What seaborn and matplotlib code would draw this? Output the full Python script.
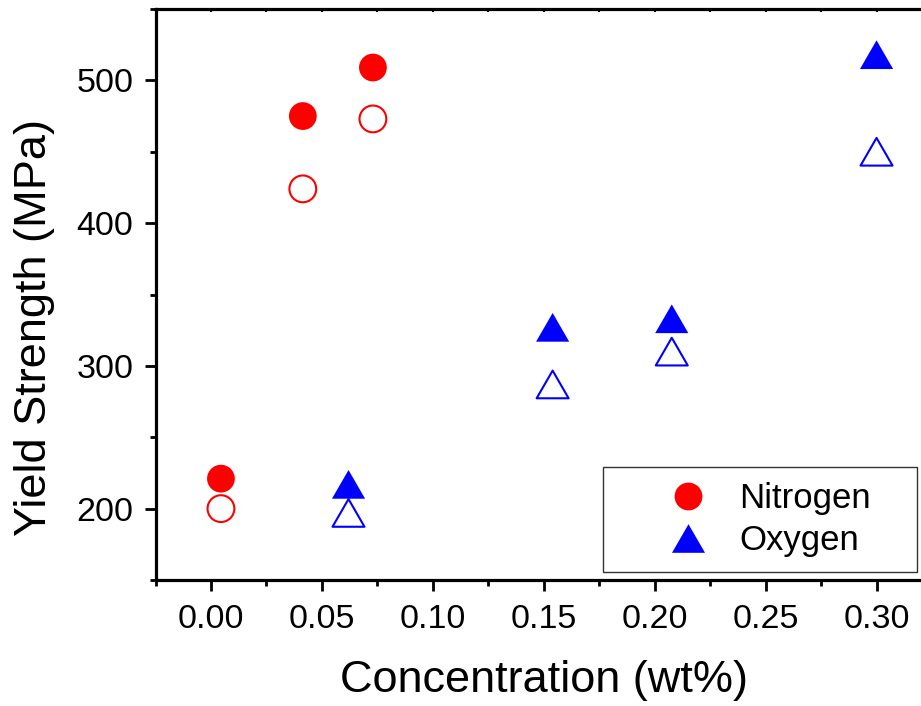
import numpy as np
import pandas as pd
import matplotlib
matplotlib.use("Agg")
import matplotlib.pyplot as plt
from matplotlib.lines import Line2D
from matplotlib.path import Path
from matplotlib.ticker import MultipleLocator
import seaborn as sns

# Yield strength vs. interstitial concentration
nitrogen_conc = [0.0045, 0.0414, 0.0730]
nitrogen_filled = [221, 475, 509]
nitrogen_open = [200, 424, 473]

oxygen_conc = [0.0620, 0.1540, 0.2077, 0.3000]
oxygen_filled = [217, 327, 333, 518]
oxygen_open = [197, 287, 310, 450]

RED = "#FF0000"
BLUE = "#0000FF"

sns.set_theme(style="white")
plt.rcParams["font.family"] = ["Liberation Sans", "DejaVu Sans"]
plt.rcParams["text.color"] = "black"
plt.rcParams["axes.labelcolor"] = "black"
plt.rcParams["xtick.color"] = "black"
plt.rcParams["ytick.color"] = "black"

# equilateral triangle, centred on its bounding box
tri = Path([(0, 0.433), (-0.5, -0.433), (0.5, -0.433), (0, 0.433)],
           [Path.MOVETO, Path.LINETO, Path.LINETO, Path.CLOSEPOLY])

fig = plt.figure(figsize=(9.21, 7.06), dpi=100)
ax = fig.add_axes([155.5 / 921, (706 - 580) / 706, (932 - 155.5) / 921, 571 / 706])

filled = pd.DataFrame({
    "conc": nitrogen_conc + oxygen_conc,
    "ys": nitrogen_filled + oxygen_filled,
    "element": ["Nitrogen"] * len(nitrogen_conc) + ["Oxygen"] * len(oxygen_conc),
})

S_CIRC = 400
S_TRI = 570

sns.scatterplot(data=filled[filled.element == "Nitrogen"], x="conc", y="ys",
                marker="o", s=S_CIRC, color=RED, edgecolor="none",
                legend=False, ax=ax, zorder=3)
sns.scatterplot(data=filled[filled.element == "Oxygen"], x="conc", y="ys",
                marker=tri, s=S_TRI, color=BLUE, edgecolor="none",
                legend=False, ax=ax, zorder=3)
sns.scatterplot(x=nitrogen_conc, y=nitrogen_open, marker="o", s=S_CIRC * 0.93,
                facecolor="none", edgecolor=RED, linewidth=1.5,
                legend=False, ax=ax, zorder=3)
sns.scatterplot(x=oxygen_conc, y=oxygen_open, marker=tri, s=S_TRI * 0.93,
                facecolor="none", edgecolor=BLUE, linewidth=1.5,
                legend=False, ax=ax, zorder=3)

ax.set_xlim(-0.025, 0.325)
ax.set_ylim(150, 550)
ax.xaxis.set_major_locator(MultipleLocator(0.05))
ax.xaxis.set_minor_locator(MultipleLocator(0.025))
ax.yaxis.set_major_locator(MultipleLocator(100))
ax.yaxis.set_minor_locator(MultipleLocator(50))
ax.set_xticks(np.arange(0, 0.301, 0.05))
ax.set_xticklabels([f"{v:.2f}" for v in np.arange(0, 0.301, 0.05)])
ax.set_yticks([200, 300, 400, 500])

for side in ["left", "bottom", "top"]:
    ax.spines[side].set_visible(True)
    ax.spines[side].set_color("black")
    ax.spines[side].set_linewidth(2.3)
ax.spines["right"].set_visible(False)

ax.tick_params(axis="both", which="major", direction="out", length=8, width=2.0,
               labelsize=24.5, color="black", labelcolor="black",
               bottom=True, left=True, pad=8)
ax.tick_params(axis="x", which="major", pad=9.5)
ax.tick_params(axis="both", which="minor", direction="out", length=4.5, width=2.0,
               color="black", bottom=True, left=True)

top = ax.secondary_xaxis("top")
top.set_xticks(np.arange(-0.025, 0.326, 0.025))
top.tick_params(direction="in", length=2, width=1.5, labeltop=False, color="black")
top.spines["top"].set_visible(False)

ax.set_xlabel("Concentration (wt%)", fontsize=32.5, color="black", labelpad=18)
ax.set_ylabel("Yield Strength (MPa)", fontsize=32.5, color="black")
ax.yaxis.set_label_coords((35 - 155.5) / 776.5, (580 - 327) / 571)
ax.yaxis.label.set_verticalalignment("center")
ax.yaxis.label.set_horizontalalignment("center")

handles = [
    Line2D([], [], linestyle="none", marker="o", markersize=20,
           markerfacecolor=RED, markeredgecolor="none"),
    Line2D([], [], linestyle="none", marker=tri, markersize=23.8,
           markerfacecolor=BLUE, markeredgecolor="none"),
]
leg = ax.legend(handles, ["Nitrogen", "Oxygen"], loc="lower left",
                bbox_to_anchor=(0.576, 0.014, 0.405, 0.184), mode="expand",
                fontsize=25, frameon=True, fancybox=False, shadow=False,
                borderpad=0.43, handlelength=4.04, handletextpad=-0.53,
                labelspacing=0.26, borderaxespad=0)
for t in leg.get_texts():
    t.set_color("black")
leg.get_frame().set_edgecolor("#333333")
leg.get_frame().set_linewidth(1.0)
leg.get_frame().set_facecolor("white")
leg.get_frame().set_alpha(1)

fig.savefig("out.png", dpi=100)
